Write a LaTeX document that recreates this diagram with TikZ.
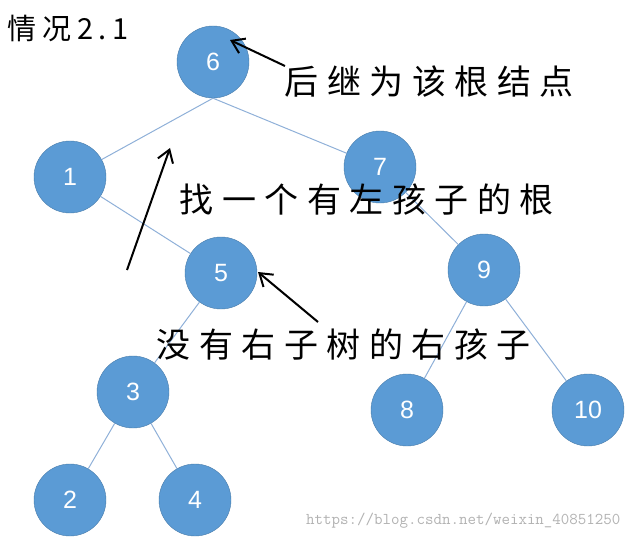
\documentclass[tikz,border=0pt]{standalone}
\usepackage{fontspec}
\setmainfont{Liberation Sans}
\newfontfamily\cjk[LetterSpace=25]{Noto Sans CJK SC}
\newfontfamily\titlefont[LetterSpace=20]{Noto Sans CJK SC}
\usetikzlibrary{arrows.meta}
\definecolor{nodeblue}{HTML}{5B9BD5}
\definecolor{edgeblue}{HTML}{8FB0D8}
\tikzset{
  treenode/.style={circle,fill=nodeblue,draw=nodeblue!80!black,line width=0.4pt,minimum size=72pt,inner sep=0pt,text=white,font=\fontsize{25}{25}\selectfont},
  treeedge/.style={edgeblue,line width=1pt},
  note/.style={font=\cjk\fontsize{34}{34}\selectfont},
  pointer/.style={-{Straight Barb[length=12pt,width=16pt]},line width=2pt,black}
}
\begin{document}
\begin{tikzpicture}[x=1pt,y=-1pt]
\useasboundingbox (0,0) rectangle (634,540);

% tree
\node[treenode] (n6) at (213,62) {6};
\node[treenode] (n1) at (70,177) {1};
\node[treenode] (n7) at (380,167) {7};
\node[treenode] (n5) at (221,273) {5};
\node[treenode] (n9) at (484,270) {9};
\node[treenode] (n3) at (133,392) {3};
\node[treenode] (n8) at (407,410) {8};
\node[treenode] (n10) at (588,410) {10};
\node[treenode] (n2) at (70,500) {2};
\node[treenode] (n4) at (195,500) {4};

\foreach \a/\b in {n1/n5,n7/n9,n5/n3,n9/n8,n9/n10,n3/n2,n3/n4}
  \draw[treeedge] (\a) -- (\b);
\draw[treeedge] (n6.south) -- (n1);
\draw[treeedge] (n6.south) -- (n7);

% notes
\node[font=\titlefont\fontsize{29}{29}\selectfont,anchor=west] (title) at (4,28) {情况2.1};
\node[note,anchor=west] (succ) at (281,82) {后继为该根结点};
\node[note,anchor=west] (find) at (176,200) {找一个有左孩子的根};
\node[note,anchor=west] (right) at (153,345) {没有右子树的右孩子};

\coordinate (s1) at (285,66);
\coordinate (s2) at (127,270);
\coordinate (s3) at (318,322);
\draw[pointer] (s1) -- (230,40);
\draw[pointer] (s2) -- (170,148);
\draw[pointer] (s3) -- (258,272);

\node[text=gray!60,font=\ttfamily\fontsize{16.5}{16.5}\selectfont,anchor=east] (mark) at (624,521) {https://blog.csdn.net/weixin\_40851250};
\end{tikzpicture}
\end{document}
